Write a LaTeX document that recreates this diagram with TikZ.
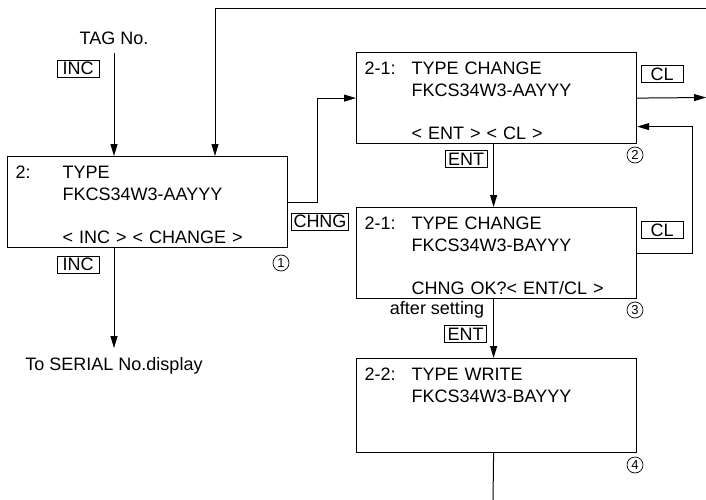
\documentclass[tikz,border=0pt]{standalone}
\usepackage{fontspec}
\setmainfont{Liberation Sans}
\usetikzlibrary{arrows.meta}

\begin{document}
\begin{tikzpicture}[
    x=1pt, y=-1pt,
    font=\fontsize{18}{21.7}\selectfont,
    lcd/.style={draw, line width=1.2pt, anchor=north west, inner xsep=8pt, inner ysep=0pt,
        text width=264pt, minimum height=91pt, text height=22pt, text depth=69pt, align=left},
    key/.style={draw, line width=0.8pt, inner xsep=2pt, inner ysep=1.5pt,
        minimum width=42pt, minimum height=17pt},
    stepno/.style={circle, draw, line width=0.7pt, inner sep=0pt, minimum size=16pt,
        font=\fontsize{13}{13}\selectfont},
    wire/.style={line width=1pt},
    flow/.style={wire, -{Triangle[length=12pt, width=7pt]}} % arrow with solid head
]
    \useasboundingbox (0,0) rectangle (706,500);

    % Display panels
    \node[lcd] (typeDisp) at (7,156) {\begin{tabular}[t]{@{}p{47pt}@{}l@{}}
        2: & TYPE\\
           & FKCS34W3-AAYYY\\
           & \\
           & < INC > < CHANGE >
    \end{tabular}};
    \node[lcd] (chgDisp) at (356,52) {\begin{tabular}[t]{@{}p{47pt}@{}l@{}}
        2-1: & TYPE CHANGE\\
             & FKCS34W3-AAYYY\\
             & \\
             & < ENT > < CL >
    \end{tabular}};
    \node[lcd] (okDisp) at (356,207) {\begin{tabular}[t]{@{}p{47pt}@{}l@{}}
        2-1: & TYPE CHANGE\\
             & FKCS34W3-BAYYY\\
             & \\
             & CHNG OK?< ENT/CL >
    \end{tabular}};
    \node[lcd, minimum height=94pt, text depth=72pt] (writeDisp) at (356,358) {\begin{tabular}[t]{@{}p{47pt}@{}l@{}}
        2-2: & TYPE WRITE\\
             & FKCS34W3-BAYYY
    \end{tabular}};

    % Key labels
    \node[key] (incTop) at (78,68.5) {INC};
    \node[key] (incBot) at (78,264.5) {INC};
    \node[key] (chngKey) at (320,221.5) {CHNG};
    \node[key] (entTop) at (466,159) {ENT};
    \node[key] (entBot) at (465.5,334) {ENT};
    \node[key] (clTop) at (662,74) {CL};
    \node[key] (clBot) at (662,230) {CL};

    % Step numbers
    \node[stepno] (s1) at (281,263) {1};
    \node[stepno] (s2) at (635,155) {2};
    \node[stepno] (s3) at (635,310) {3};
    \node[stepno] (s4) at (635,465) {4};

    % Plain texts
    \node (tagNo) at (114,38) {TAG No.};
    \node (serialNo) at (114,366) {To SERIAL No.display};
    \node (afterSet) at (437,310) {after setting};

    % Free ends at the page border
    \coordinate (loopR) at (706,8.3);
    \coordinate (dropA) at (215,8.3);
    \coordinate (outB) at (706,97.5);
    \coordinate (endD) at (493,500);

    % Connectors
    \draw[flow] ([yshift=-5pt]tagNo.south) -- (tagNo |- typeDisp.north);
    \draw[flow] (loopR) -- (dropA) -- (dropA |- typeDisp.north);
    \draw[flow] (typeDisp.east) -- ++(29,0) |- (chgDisp.west);
    \draw[flow] (typeDisp.south -| serialNo) -- ([yshift=6pt]serialNo.north);
    \draw[flow] (chgDisp.east) -- (outB);
    \draw[flow] ([xshift=-3pt]chgDisp.south) -- ([xshift=-3pt]okDisp.north);
    \draw[flow] (okDisp.east) -- ++(55,0) |- ([yshift=-28.5pt]chgDisp.east);
    \draw[flow] ([xshift=-3pt]okDisp.south) -- ([xshift=-3pt]writeDisp.north);
    \draw[wire] ([xshift=-3pt]writeDisp.south) -- (endD);

\end{tikzpicture}
\end{document}
